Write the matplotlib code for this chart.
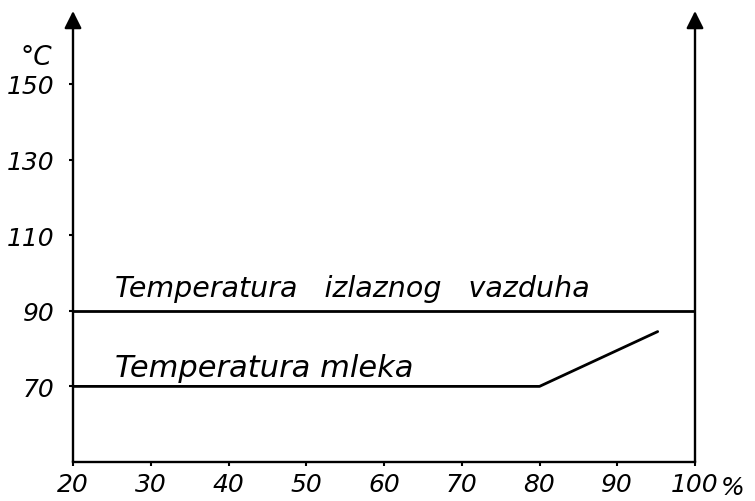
import matplotlib
matplotlib.use("Agg")
import matplotlib.pyplot as plt
from matplotlib import font_manager

# Data
x_ticks = [20, 30, 40, 50, 60, 70, 80, 90, 100]
x_tick_labels = ["20", "30", "40", "50", "60", "70", "80", "90", "100"]
y_ticks = [70, 90, 110, 130, 150]
y_tick_labels = ["70", "90", "110", "130", "150"]

air_x = [20, 100]
air_y = [90, 90]
milk_x = [20, 80, 95.2]
milk_y = [70, 70, 84.5]

label_air = "Temperatura   izlaznog   vazduha"
label_milk = "Temperatura mleka"

names = {f.name for f in font_manager.fontManager.ttflist}
if 'Liberation Sans Narrow' in names:
    tick_family, tick_size = 'Liberation Sans Narrow', 20
else:
    tick_family, tick_size = 'DejaVu Sans', 18

plt.rcParams['font.family'] = ['DejaVu Sans']
fig = plt.figure(figsize=(7.55, 5.02), dpi=100)
ax = fig.add_axes([73/755, 39/502, 622/755, 451/502])
ax.set_xlim(20, 100)
ax.set_ylim(50, 169.3)

lw = 2.0
ax.plot(air_x, air_y, color='black', lw=lw, clip_on=False, solid_capstyle='butt')
ax.plot(milk_x, milk_y, color='black', lw=lw, clip_on=False, solid_capstyle='round')

for s in ['top', 'left', 'right']:
    ax.spines[s].set_visible(False)
ax.spines['bottom'].set_linewidth(1.7)

# vertical axes with arrows
for xv in [20, 100]:
    ax.annotate('', xy=(xv, 169.3), xytext=(xv, 50), xycoords='data',
                arrowprops=dict(arrowstyle='-|>', color='black', lw=1.7,
                                mutation_scale=26, shrinkA=0, shrinkB=0),
                annotation_clip=False)

tfont = dict(family=tick_family, style='italic', size=tick_size)
ax.set_xticks(x_ticks)
ax.set_xticklabels(x_tick_labels, fontdict=tfont)
ax.set_yticks(y_ticks)
ax.set_yticklabels(y_tick_labels, fontdict=tfont)
ax.tick_params(axis='x', direction='out', length=3, width=1.5, pad=4)
ax.tick_params(axis='y', direction='out', length=3, width=1.5, pad=10.5)

# unit labels
ax.annotate("%", xy=(100, 50), xytext=(26, -32), textcoords='offset pixels',
            family=tick_family, style='italic', size=tick_size,
            ha='left', va='baseline', annotation_clip=False)
ax.text(-0.034, 155.3, "°C", transform=ax.get_yaxis_transform(),
        family=tick_family, style='italic', size=tick_size + 1,
        ha='right', va='baseline')

# line labels
ax.text(25.4, 94.0, label_air, family='DejaVu Sans', style='italic', size=20.5,
        ha='left', va='baseline')
ax.text(25.4, 72.7, label_milk, family='DejaVu Sans', style='italic', size=22,
        ha='left', va='baseline')

fig.savefig("out.png", dpi=100, facecolor='white')
